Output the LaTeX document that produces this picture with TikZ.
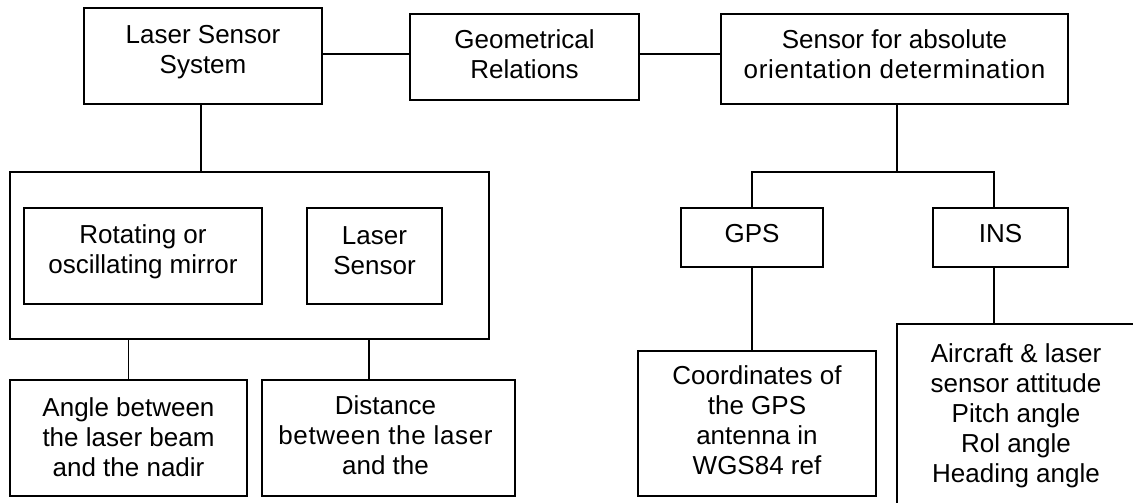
\documentclass[tikz,border=0pt]{standalone}
\usepackage{fontspec}
\setmainfont{Liberation Sans}
\begin{document}
\begin{tikzpicture}[x=1pt,y=-1pt,
  box/.style={draw, line width=1.8pt, inner sep=0pt, outer sep=0pt},
  txt/.style={inner sep=0pt, outer sep=0pt, align=center, font=\fontsize{26}{29.9}\selectfont},
  link/.style={line width=1.8pt}]
\useasboundingbox (0,0) rectangle (1133,503);
\clip (0,0) rectangle (1133,503);
% boxes
\node[box, minimum width=238pt, minimum height=96pt] (lss) at (203,56) {};
\node[box, minimum width=229pt, minimum height=86pt] (geo) at (524.5,57) {};
\node[box, minimum width=347pt, minimum height=90pt] (abs) at (894.5,59) {};
\node[box, minimum width=479pt, minimum height=167pt] (outer) at (249.5,255.5) {};
\node[box, minimum width=238pt, minimum height=96pt] (mirror) at (143,256) {};
\node[box, minimum width=135pt, minimum height=96pt] (lsens) at (374.5,256) {};
\node[box, minimum width=237pt, minimum height=116pt] (angle) at (128.5,438) {};
\node[box, minimum width=253pt, minimum height=116pt] (dist) at (388.5,438) {};
\node[box, minimum width=142pt, minimum height=59pt] (gps) at (752,237.5) {};
\node[box, minimum width=135pt, minimum height=59pt] (ins) at (1000.5,237.5) {};
\node[box, minimum width=238pt, minimum height=145pt] (coord) at (757,423.5) {};
\coordinate (acftNE) at (1145,324);
\coordinate (acftSW) at (897,515);
\draw[link] (acftNE) -| (acftSW);
% texts
\node[txt, yshift=4pt] (lssT) at (lss) {Laser Sensor\\System};
\node[txt, yshift=3pt] (geoT) at (geo) {Geometrical\\Relations};
\node[txt, yshift=5pt] (absT) at (abs) {Sensor for absolute\\{\addfontfeature{LetterSpace=2.6}orientation determination}};
\node[txt, yshift=4pt] (mirrorT) at (mirror) {Rotating or\\oscillating mirror};
\node[txt, yshift=5pt] (lsensT) at (lsens) {Laser\\Sensor};
\node[txt, yshift=1pt] (angleT) at (angle) {Angle between\\the laser beam\\and the nadir};
\node[txt, xshift=-3pt, yshift=3pt] (distT) at (dist) {Distance\\{\addfontfeature{LetterSpace=2.5}between the laser}\\and the};
\node[txt, yshift=4pt] (gpsT) at (gps) {GPS};
\node[txt, yshift=4pt] (insT) at (ins) {INS};
\node[txt, yshift=3pt] (coordT) at (coord) {Coordinates of\\the GPS\\antenna in\\WGS84 ref};
\node[txt] (acft) at (1016,416) {Aircraft \& laser\\sensor attitude\\Pitch angle\\Rol angle\\Heading angle};
% connectors
\coordinate (fork) at (897,172);
\coordinate (insx) at (994,0);
\coordinate (acfttop) at (994,324);
\coordinate (d1) at (369,339);
\draw[link] ([yshift=2pt]lss.east) -- ([yshift=2pt]lss.east -| geo.west);
\draw[link] ([yshift=3pt]geo.east) -- ([yshift=3pt]geo.east -| abs.west);
\draw[link] ([xshift=-2pt]lss.south) -- ([xshift=-2pt]lss.south |- outer.north);
\draw[link] (angle.north |- outer.south) -- (angle.north);
\draw[link] (d1) -- (d1 |- dist.north);
\draw[link] (abs.south -| fork) -- (fork);
\draw[link] (gps.north) |- (insx |- fork) -- (insx |- ins.north);
\draw[link] (gps.south) -- (gps.south |- coord.north);
\draw[link] (insx |- ins.south) -- (acfttop);
\end{tikzpicture}
\end{document}
